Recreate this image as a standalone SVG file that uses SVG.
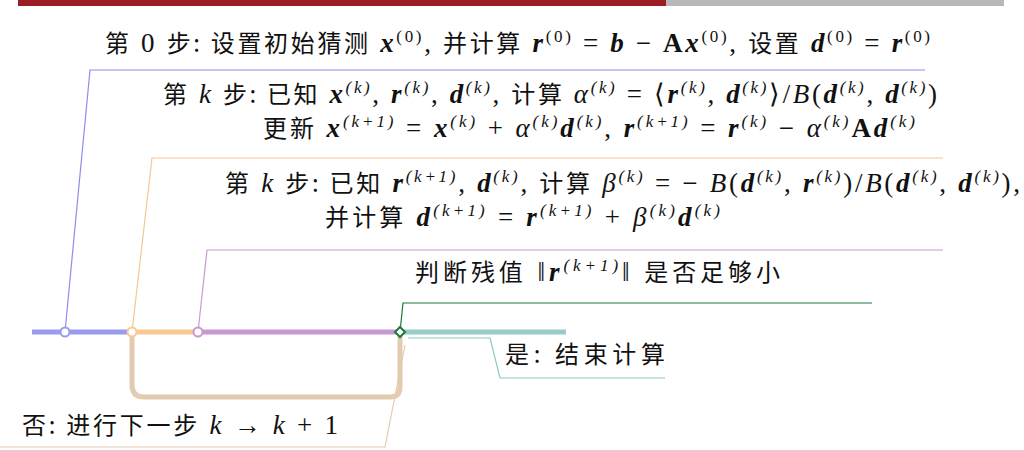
<svg xmlns="http://www.w3.org/2000/svg" width="1024" height="450" viewBox="0 0 1024 450">
<style>
text{font-family:"Liberation Serif","Noto Sans CJK SC",serif;font-size:27px;fill:#111}
.cjk{font-family:"Noto Sans CJK SC",sans-serif;font-size:24px}
.v{font-weight:bold;font-style:italic}
.i{font-style:italic}
.b{font-weight:bold}
.s{font-size:17px}
.lead{fill:none;stroke-width:1.2}
</style>
<rect x="18" y="0" width="648" height="6" fill="#9b1c22"/>
<rect x="666" y="0" width="338" height="6" fill="#b8b8b8"/>
<g id="connectors">
<path d="M132 332 V385 Q132 397 144 397 H390 Q400 397 400 387 V332" fill="none" stroke="#e2cbb0" stroke-width="5"/>
<line x1="32" y1="332" x2="132" y2="332" stroke="#9a9af0" stroke-width="5"/>
<line x1="132" y1="332" x2="198" y2="332" stroke="#f8c896" stroke-width="5"/>
<line x1="198" y1="332" x2="400" y2="332" stroke="#c898d0" stroke-width="5"/>
<line x1="400" y1="332" x2="566" y2="332" stroke="#98ccc8" stroke-width="5"/>
<path class="lead" d="M65 332 L90 70 H925" stroke="#8c8cf0"/>
<path class="lead" d="M132 332 L152 158 H943" stroke="#f5c796"/>
<path class="lead" d="M198 332 L207 250 H943" stroke="#cc98d4"/>
<path class="lead" d="M400 332 L403 303 H872" stroke="#1a7a3a"/>
<path class="lead" d="M408 338 H490 L500 378 H665" stroke="#8cc8c4"/>
<path class="lead" d="M405 345 L385 447 H0" stroke="#e2cbb0"/>
</g>
<g id="n0"><circle cx="65" cy="332" r="4.5" fill="#fff" stroke="#9a9af0" stroke-width="2"/>
<text x="105" y="52" textLength="825" lengthAdjust="spacing"><tspan class="cjk">第</tspan> 0 <tspan class="cjk">步: 设置初始猜测</tspan> <tspan class="v">x</tspan><tspan class="s" dy="-10">(0)</tspan><tspan dy="10">, </tspan><tspan class="cjk">并计算</tspan> <tspan class="v">r</tspan><tspan class="s" dy="-10">(0)</tspan><tspan dy="10"> = </tspan><tspan class="v">b</tspan> − <tspan class="b">A</tspan><tspan class="v">x</tspan><tspan class="s" dy="-10">(0)</tspan><tspan dy="10">, </tspan><tspan class="cjk">设置</tspan> <tspan class="v">d</tspan><tspan class="s" dy="-10">(0)</tspan><tspan dy="10"> = </tspan><tspan class="v">r</tspan><tspan class="s" dy="-10">(0)</tspan></text></g>
<g id="n1"><circle cx="132" cy="332" r="4.5" fill="#fff" stroke="#f8c896" stroke-width="2"/>
<text x="163" y="103" textLength="774" lengthAdjust="spacing"><tspan class="cjk">第</tspan> <tspan class="i">k</tspan> <tspan class="cjk">步: 已知</tspan> <tspan class="v">x</tspan><tspan class="s i" dy="-10">(k)</tspan><tspan dy="10">, </tspan><tspan class="v">r</tspan><tspan class="s i" dy="-10">(k)</tspan><tspan dy="10">, </tspan><tspan class="v">d</tspan><tspan class="s i" dy="-10">(k)</tspan><tspan dy="10">, </tspan><tspan class="cjk">计算</tspan> <tspan class="i">α</tspan><tspan class="s i" dy="-10">(k)</tspan><tspan dy="10"> = ⟨</tspan><tspan class="v">r</tspan><tspan class="s i" dy="-10">(k)</tspan><tspan dy="10">, </tspan><tspan class="v">d</tspan><tspan class="s i" dy="-10">(k)</tspan><tspan dy="10">⟩/</tspan><tspan class="i">B</tspan>(<tspan class="v">d</tspan><tspan class="s i" dy="-10">(k)</tspan><tspan dy="10">, </tspan><tspan class="v">d</tspan><tspan class="s i" dy="-10">(k)</tspan><tspan dy="10">)</tspan></text>
<text x="263" y="137" textLength="652" lengthAdjust="spacing"><tspan class="cjk">更新</tspan> <tspan class="v">x</tspan><tspan class="s i" dy="-10">(k+1)</tspan><tspan dy="10"> = </tspan><tspan class="v">x</tspan><tspan class="s i" dy="-10">(k)</tspan><tspan dy="10"> + </tspan><tspan class="i">α</tspan><tspan class="s i" dy="-10">(k)</tspan><tspan class="v" dy="10">d</tspan><tspan class="s i" dy="-10">(k)</tspan><tspan dy="10">, </tspan><tspan class="v">r</tspan><tspan class="s i" dy="-10">(k+1)</tspan><tspan dy="10"> = </tspan><tspan class="v">r</tspan><tspan class="s i" dy="-10">(k)</tspan><tspan dy="10"> − </tspan><tspan class="i">α</tspan><tspan class="s i" dy="-10">(k)</tspan><tspan class="b" dy="10">A</tspan><tspan class="v">d</tspan><tspan class="s i" dy="-10">(k)</tspan></text></g>
<g id="n2"><circle cx="198" cy="332" r="4.5" fill="#fff" stroke="#c898d0" stroke-width="2"/>
<text x="225" y="192" textLength="795" lengthAdjust="spacing"><tspan class="cjk">第</tspan> <tspan class="i">k</tspan> <tspan class="cjk">步: 已知</tspan> <tspan class="v">r</tspan><tspan class="s i" dy="-10">(k+1)</tspan><tspan dy="10">, </tspan><tspan class="v">d</tspan><tspan class="s i" dy="-10">(k)</tspan><tspan dy="10">, </tspan><tspan class="cjk">计算</tspan> <tspan class="i">β</tspan><tspan class="s i" dy="-10">(k)</tspan><tspan dy="10"> = − </tspan><tspan class="i">B</tspan>(<tspan class="v">d</tspan><tspan class="s i" dy="-10">(k)</tspan><tspan dy="10">, </tspan><tspan class="v">r</tspan><tspan class="s i" dy="-10">(k)</tspan><tspan dy="10">)/</tspan><tspan class="i">B</tspan>(<tspan class="v">d</tspan><tspan class="s i" dy="-10">(k)</tspan><tspan dy="10">, </tspan><tspan class="v">d</tspan><tspan class="s i" dy="-10">(k)</tspan><tspan dy="10">),</tspan></text>
<text x="325" y="226" textLength="395" lengthAdjust="spacing"><tspan class="cjk">并计算</tspan> <tspan class="v">d</tspan><tspan class="s i" dy="-10">(k+1)</tspan><tspan dy="10"> = </tspan><tspan class="v">r</tspan><tspan class="s i" dy="-10">(k+1)</tspan><tspan dy="10"> + </tspan><tspan class="i">β</tspan><tspan class="s i" dy="-10">(k)</tspan><tspan class="v" dy="10">d</tspan><tspan class="s i" dy="-10">(k)</tspan></text></g>
<g id="n3"><path d="M400 327 L405 332 L400 337 L395 332 Z" fill="#fff" stroke="#1a7a3a" stroke-width="2"/>
<text x="415" y="281" textLength="365" lengthAdjust="spacing"><tspan class="cjk">判断残值</tspan> ‖<tspan class="v">r</tspan><tspan class="s i" dy="-10">(k+1)</tspan><tspan dy="10">‖ </tspan><tspan class="cjk">是否足够小</tspan></text></g>
<g id="n4"><text x="505" y="363" textLength="160" lengthAdjust="spacing"><tspan class="cjk">是: 结束计算</tspan></text></g>
<g id="n5"><text x="22" y="434" textLength="316" lengthAdjust="spacing"><tspan class="cjk">否: 进行下一步</tspan> <tspan class="i">k</tspan> → <tspan class="i">k</tspan> + 1</text></g>
</svg>
